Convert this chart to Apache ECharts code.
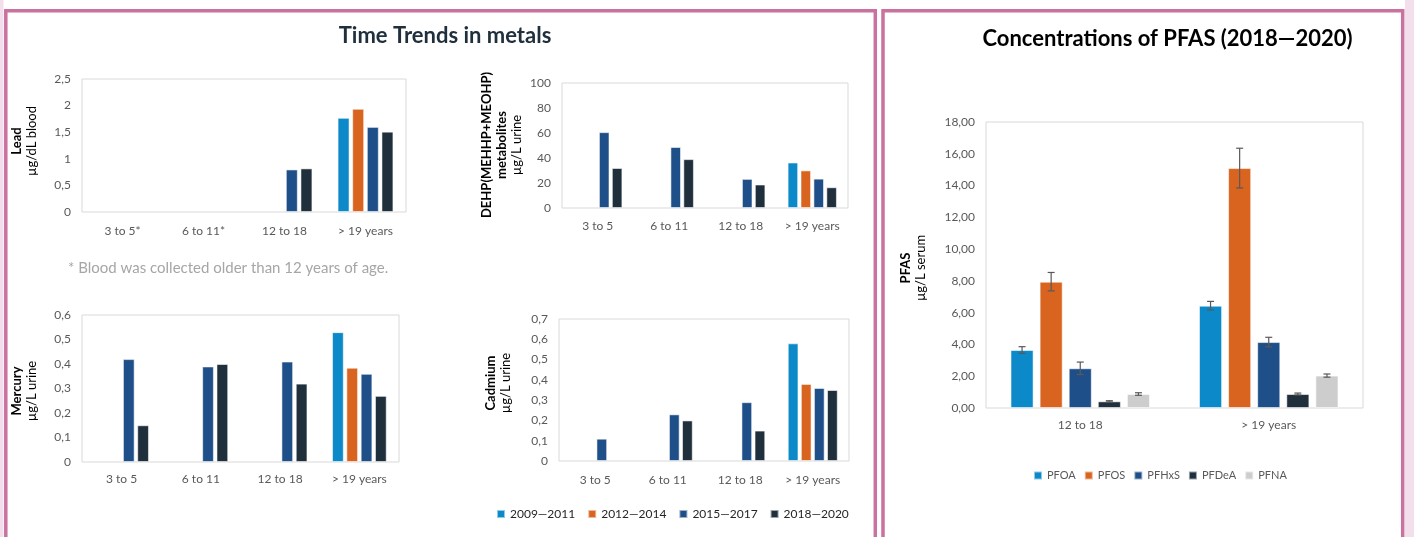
<!DOCTYPE html>
<html>
<head>
<meta charset="utf-8">
<style>
  html, body { margin: 0; padding: 0; background: #ffffff; }
  #chart { width: 1414px; height: 537px; }
</style>
<script src="https://cdn.jsdelivr.net/npm/echarts@6/dist/echarts.min.js"></script>
</head>
<body>
<div id="chart"></div>
<script>
// ---- data ----
const metalAges = ['3 to 5', '6 to 11', '12 to 18', '> 19 years'];
const leadAges = ['3 to 5*', '6 to 11*', '12 to 18', '> 19 years'];
const periods = ['2009\u20142011', '2012\u20142014', '2015\u20142017', '2018\u20142020'];

// Lead, µg/dL blood (one array per period, one value per age group)
const lead2009 = [null, null, null, 1.77];
const lead2012 = [null, null, null, 1.94];
const lead2015 = [null, null, 0.80, 1.60];
const lead2018 = [null, null, 0.82, 1.51];

// DEHP metabolites, µg/L urine
const dehp2009 = [null, null, null, 36.4];
const dehp2012 = [null, null, null, 30.1];
const dehp2015 = [60.7, 48.8, 23.3, 23.5];
const dehp2018 = [32.0, 39.1, 18.8, 16.6];

// Mercury, µg/L urine
const mercury2009 = [null, null, null, 0.53];
const mercury2012 = [null, null, null, 0.385];
const mercury2015 = [0.42, 0.39, 0.41, 0.36];
const mercury2018 = [0.15, 0.40, 0.32, 0.27];

// Cadmium, µg/L urine
const cadmium2009 = [null, null, null, 0.58];
const cadmium2012 = [null, null, null, 0.38];
const cadmium2015 = [0.11, 0.23, 0.29, 0.36];
const cadmium2018 = [null, 0.20, 0.15, 0.35];

// PFAS 2018–2020, µg/L serum: mean and half-width of the error bar
const pfasAges = ['12 to 18', '> 19 years'];
const pfasNames = ['PFOA', 'PFOS', 'PFHxS', 'PFDeA', 'PFNA'];
const pfoa = [3.65, 6.44];
const pfos = [7.95, 15.10];
const pfhxs = [2.50, 4.15];
const pfdea = [0.42, 0.88];
const pfna = [0.88, 2.04];
const pfoaErr = [0.21, 0.27];
const pfosErr = [0.58, 1.25];
const pfhxsErr = [0.39, 0.30];
const pfdeaErr = [0.04, 0.06];
const pfnaErr = [0.08, 0.10];

// axis titles: bold lines first, then the unit
const axisTitles = [
  { bold: ['Lead'], unit: '\u00b5g/dL blood' },
  { bold: ['DEHP(MEHHP+MEOHP)', 'metabolites'], unit: '\u00b5g/L urine' },
  { bold: ['Mercury'], unit: '\u00b5g/L urine' },
  { bold: ['Cadmium'], unit: '\u00b5g/L urine' },
  { bold: ['PFAS'], unit: '\u00b5g/L serum' }
];

// ---- styling ----
const FONT = 'Lato, "Open Sans", sans-serif';
const periodColors = ['#0b89c8', '#d96420', '#1f4f88', '#1f2f3c'];
const pfasColors = ['#0b89c8', '#d96420', '#1f4f88', '#1f2f3c', '#cdcdcd'];
const AXIS_GRAY = '#595959';
const FRAME = '#c9719f';

const comma = (digits) => (v) => {
  if (digits == null) return String(+v.toFixed(3)).replace('.', ',');
  return v.toFixed(digits).replace('.', ',');
};

const gridBoxes = [
  { left: 82, top: 79, width: 324, height: 133 },   // lead
  { left: 562, top: 83, width: 286, height: 125 },  // DEHP
  { left: 82, top: 315, width: 317, height: 147 },  // mercury
  { left: 559, top: 319, width: 290, height: 142 }, // cadmium
  { left: 986, top: 122, width: 377, height: 286 }  // PFAS
];
// centre of each rotated axis title block
const titleAnchors = [[24, 141], [502, 145], [24, 391], [498.5, 383], [913.5, 268]];

const grids = gridBoxes.map(g => Object.assign({ show: true, borderColor: '#d9d9d9', borderWidth: 1, backgroundColor: 'transparent' }, g));

function xAx(idx, cats, margin) {
  return {
    type: 'category', gridIndex: idx, data: cats,
    axisLine: { show: false }, axisTick: { show: false },
    axisLabel: { color: AXIS_GRAY, fontFamily: FONT, fontSize: 12, margin: margin, interval: 0 }
  };
}
function yAx(idx, max, interval, fmt) {
  return {
    type: 'value', gridIndex: idx, min: 0, max: max, interval: interval,
    axisLine: { show: false }, axisTick: { show: false }, splitLine: { show: false },
    axisLabel: { color: AXIS_GRAY, fontFamily: FONT, fontSize: 12, margin: 11, formatter: fmt }
  };
}

const xAxes = [
  xAx(0, leadAges, 13),
  xAx(1, metalAges, 12),
  xAx(2, metalAges, 11),
  xAx(3, metalAges, 13),
  xAx(4, pfasAges, 11)
];

const yAxes = [
  yAx(0, 2.5, 0.5, comma()),
  yAx(1, 100, 20, (v) => String(v)),
  yAx(2, 0.6, 0.1, comma()),
  yAx(3, 0.7, 0.1, comma()),
  yAx(4, 18, 2, comma(2))
];

const series = [];
const metalSets = [
  [lead2009, lead2012, lead2015, lead2018],
  [dehp2009, dehp2012, dehp2015, dehp2018],
  [mercury2009, mercury2012, mercury2015, mercury2018],
  [cadmium2009, cadmium2012, cadmium2015, cadmium2018]
];
metalSets.forEach((set, gi) => {
  set.forEach((values, pi) => {
    series.push({
      type: 'bar', name: periods[pi], xAxisIndex: gi, yAxisIndex: gi,
      data: values.map(v => (v == null ? '-' : v)),
      barGap: '22%', barCategoryGap: '31%',
      itemStyle: { color: periodColors[pi], borderColor: 'rgba(255,255,255,0.55)', borderWidth: 1 },
      emphasis: { disabled: true },
      animation: false
    });
  });
});

const pfasValues = [pfoa, pfos, pfhxs, pfdea, pfna];
const pfasErrs = [pfoaErr, pfosErr, pfhxsErr, pfdeaErr, pfnaErr];
const PFAS_BAR_GAP = 0.26, PFAS_CAT_GAP = 0.26;
pfasValues.forEach((values, k) => {
  series.push({
    type: 'bar', name: pfasNames[k], xAxisIndex: 4, yAxisIndex: 4,
    data: values,
    barGap: (PFAS_BAR_GAP * 100) + '%', barCategoryGap: (PFAS_CAT_GAP * 100) + '%',
    itemStyle: { color: pfasColors[k], borderColor: 'rgba(255,255,255,0.55)', borderWidth: 1 },
    emphasis: { disabled: true },
    animation: false
  });
});

// error bars placed on the same slot as the matching bar
pfasValues.forEach((values, k) => {
  const n = pfasValues.length;
  series.push({
    type: 'custom', name: pfasNames[k] + ' error', xAxisIndex: 4, yAxisIndex: 4,
    data: values.map((v, i) => [i, v - pfasErrs[k][i], v + pfasErrs[k][i]]),
    z: 5, silent: true, animation: false,
    renderItem: function (params, api) {
      const band = api.size([1, 0])[0];
      const barW = band * (1 - PFAS_CAT_GAP) / (n + (n - 1) * PFAS_BAR_GAP);
      const offset = (k - (n - 1) / 2) * barW * (1 + PFAS_BAR_GAP);
      const lo = api.coord([api.value(0), api.value(1)]);
      const hi = api.coord([api.value(0), api.value(2)]);
      const x = lo[0] + offset;
      const cap = 3.5;
      const style = { stroke: '#595959', lineWidth: 1.2 };
      return {
        type: 'group',
        children: [
          { type: 'line', shape: { x1: x, y1: lo[1], x2: x, y2: hi[1] }, style: style },
          { type: 'line', shape: { x1: x - cap, y1: lo[1], x2: x + cap, y2: lo[1] }, style: style },
          { type: 'line', shape: { x1: x - cap, y1: hi[1], x2: x + cap, y2: hi[1] }, style: style }
        ]
      };
    }
  });
});

// rotated axis titles
const axisTitleGraphics = axisTitles.map((t, i) => ({
  type: 'text', x: titleAnchors[i][0], y: titleAnchors[i][1], rotation: Math.PI / 2, silent: true,
  style: {
    text: t.bold.map(s => '{b|' + s + '}').join('\n') + '\n{n|' + t.unit + '}',
    textAlign: 'center', textVerticalAlign: 'middle',
    rich: {
      b: { fontFamily: FONT, fontWeight: 'bold', fontSize: 13, fill: '#000', lineHeight: 15, align: 'center' },
      n: { fontFamily: FONT, fontSize: 13, fill: '#000', lineHeight: 15, align: 'center' }
    }
  }
}));

const option = {
  backgroundColor: '#ffffff',
  animation: false,
  grid: grids,
  xAxis: xAxes,
  yAxis: yAxes,
  legend: [
    {
      data: periods, left: 496, top: 508, padding: 0, itemWidth: 8, itemHeight: 8, itemGap: 12,
      icon: 'rect', selectedMode: false,
      textStyle: { fontFamily: FONT, fontSize: 12, color: '#262626' }
    },
    {
      data: pfasNames, left: 1033, top: 470, padding: 0, itemWidth: 8, itemHeight: 8, itemGap: 8,
      icon: 'rect', selectedMode: false,
      textStyle: { fontFamily: FONT, fontSize: 11, color: AXIS_GRAY }
    }
  ],
  series: series,
  graphic: [
    // side strips and panel frames
    { type: 'rect', shape: { x: 0, y: 0, width: 3.5, height: 537 }, style: { fill: '#f3dfeb' }, silent: true },
    { type: 'rect', shape: { x: 1405, y: 0, width: 9, height: 537 }, style: { fill: '#f3dfeb' }, silent: true },
    { type: 'polyline', shape: { points: [[5.8, 540], [5.8, 10.7], [875.3, 10.7], [875.3, 540]] },
      style: { stroke: FRAME, lineWidth: 3.5, fill: null }, silent: true },
    { type: 'polyline', shape: { points: [[883, 540], [883, 10.7], [1402.7, 10.7], [1402.7, 540]] },
      style: { stroke: FRAME, lineWidth: 3.5, fill: null }, silent: true },
    // headings
    { type: 'text', x: 445, y: 36, silent: true,
      style: { text: 'Time Trends in metals', fontFamily: FONT, fontWeight: 'bold', fontSize: 22,
               fill: '#1f2f3c', textAlign: 'center', textVerticalAlign: 'middle' } },
    { type: 'text', x: 1167.5, y: 39, silent: true,
      style: { text: 'Concentrations of PFAS (2018\u20142020)', fontFamily: FONT, fontWeight: 'bold', fontSize: 22,
               fill: '#000000', textAlign: 'center', textVerticalAlign: 'middle' } },
    { type: 'text', x: 68, y: 268, silent: true,
      style: { text: '* Blood was collected older than 12 years of age.', fontFamily: FONT, fontSize: 15,
               fill: '#a6a6a6', textAlign: 'left', textVerticalAlign: 'middle' } }
  ].concat(axisTitleGraphics)
};

const chart = echarts.init(document.getElementById('chart'), null, { renderer: 'canvas' });
chart.setOption(option);
</script>
</body>
</html>
